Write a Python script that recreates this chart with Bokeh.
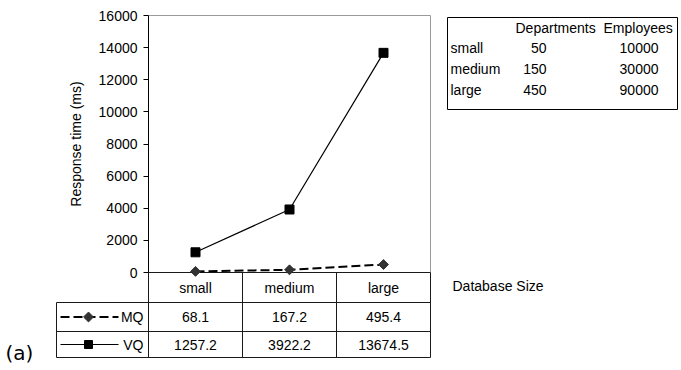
import numpy as np
from bokeh.plotting import figure
from bokeh.models import LinearAxis, FixedTicker, Range1d
from bokeh.core.properties import value
from bokeh.embed import file_html
from bokeh.resources import INLINE

# ---------------- data ----------------
categories = ["small", "medium", "large"]
mq = [68.1, 167.2, 495.4]
vq = [1257.2, 3922.2, 13674.5]
series_names = ["MQ", "VQ"]
y_ticks = [0, 2000, 4000, 6000, 8000, 10000, 12000, 14000, 16000]
size_labels = ["small", "medium", "large"]
departments = [50, 150, 450]
employees = [10000, 30000, 90000]
size_headers = ["Departments", "Employees"]
x_axis_title = "Database Size"
y_axis_title = "Response time (ms)"
panel_tag = "(a)"

# ---------------- layout ----------------
W, H = 681, 370
PAGE = 0
CELL = 94.0           # pixel width of one category cell
X0 = 195 - PAGE       # figure px of first category centre
ZERO = 272 - PAGE     # figure px (from top) of y = 0
TOP = 15 - PAGE       # figure px (from top) of y = YMAX
YMAX = y_ticks[-1]
UPP = YMAX / (ZERO - TOP)

def dx(px):
    return (px - PAGE - X0) / CELL

def dy(py):
    return (ZERO - (py - PAGE)) * UPP

FONT = value("Liberation Sans")
FS = "14px"

p = figure(width=W, height=H, output_backend="svg", toolbar_location=None, tools="",
           x_range=Range1d(dx(PAGE), dx(PAGE + W)),
           y_range=Range1d(dy(PAGE + H), dy(PAGE)),
           x_axis_location=None, y_axis_location=None, min_border=0)
p.outline_line_color = None
p.grid.visible = False
p.background_fill_color = "white"
p.border_fill_color = "white"

n = len(categories)
idx = list(range(n))
left_edge = -0.5
right_edge = n - 0.5

# y axis placed at the left edge of the plot area
yaxis = LinearAxis(fixed_location=left_edge, bounds=(0, YMAX),
                   ticker=FixedTicker(ticks=y_ticks), axis_label=y_axis_title)
yaxis.axis_line_color = "black"
yaxis.major_tick_line_color = "black"
yaxis.major_tick_out = 5
yaxis.major_tick_in = 0
yaxis.minor_tick_out = 0
yaxis.minor_tick_in = 0
yaxis.major_label_text_font = "Liberation Sans"
yaxis.major_label_text_font_size = FS
yaxis.major_label_text_color = "black"
yaxis.major_label_standoff = 6
yaxis.axis_label_text_font = "Liberation Sans"
yaxis.axis_label_text_font_size = FS
yaxis.axis_label_text_font_style = "normal"
yaxis.axis_label_text_color = "black"
yaxis.axis_label_standoff = 12
p.add_layout(yaxis, "left")

# plot area border (top, right) in grey
p.segment(x0=[left_edge, right_edge], y0=[YMAX, 0], x1=[right_edge, right_edge], y1=[YMAX, YMAX],
          line_color="#9a9a9a", line_width=1)

# data table grid
row_top = [dy(302), dy(331)]
table_bottom = dy(357)
legend_left = dx(56)
hx0 = [left_edge] + [legend_left] * 3
hx1 = [right_edge] * 4
hy = [0] + row_top + [table_bottom]
p.segment(x0=hx0, y0=hy, x1=hx1, y1=hy, line_color="#1a1a1a", line_width=1)
vx = [left_edge + i for i in range(n + 1)] + [legend_left]
vy0 = [0] * (n + 1) + [row_top[0]]
vy1 = [table_bottom] * (n + 2)
p.segment(x0=vx, y0=vy0, x1=vx, y1=vy1, line_color="#1a1a1a", line_width=1)

# series lines
p.line(idx, vq, line_color="black", line_width=1.2)
p.scatter(idx, vq, marker="square", size=9, fill_color="black", line_color="black")
p.line(idx, mq, line_color="black", line_width=2, line_dash="9 4")
p.scatter(idx, mq, marker="square", angle=np.pi / 4, size=7, fill_color="#333333", line_color="#333333")

# table texts
def txt(x, y, t, align="center", font=FONT, size=FS):
    p.text(x=x, y=y, text=t, text_font=font, text_font_size=size,
           text_align=align, text_baseline="middle", text_color="black")

y_hdr = dy(287)
y_mq = dy(316.5)
y_vq = dy(344)
txt(idx, [y_hdr] * n, categories)
txt(idx, [y_mq] * n, [str(v) for v in mq])
txt(idx, [y_vq] * n, [str(v) for v in vq])

# legend keys in table
lx0, lx1, lm, lt = dx(60), dx(118), dx(88), dx(143)
p.line([lx0, lx1], [y_mq, y_mq], line_color="black", line_width=2, line_dash="9 4")
p.scatter([lm], [y_mq], marker="square", angle=np.pi / 4, size=7, fill_color="#333333", line_color="#333333")
p.line([lx0, lx1], [y_vq, y_vq], line_color="black", line_width=1.2)
p.scatter([lm], [y_vq], marker="square", size=8, fill_color="black", line_color="black")
txt([lt, lt], [y_mq, y_vq], series_names, align="right")

# x axis title
txt([dx(452)], [dy(285)], [x_axis_title], align="left")

# database size table
p.quad(left=[dx(447)], right=[dx(677)], top=[dy(17)], bottom=[dy(109)],
       fill_color=None, line_color="black", line_width=1)
txt([dx(515), dx(603)], [dy(27)] * 2, size_headers, align="left")
rows_y = [dy(47), dy(68), dy(89)]
txt([dx(450)] * 3, rows_y, size_labels, align="left")
txt([dx(546)] * 3, rows_y, [str(v) for v in departments], align="right")
txt([dx(658)] * 3, rows_y, [str(v) for v in employees], align="right")

# panel tag
txt([dx(5)], [dy(352)], [panel_tag], align="left", font=value("DejaVu Sans"), size="20px")

open("out.html", "w").write(file_html(p, INLINE))
